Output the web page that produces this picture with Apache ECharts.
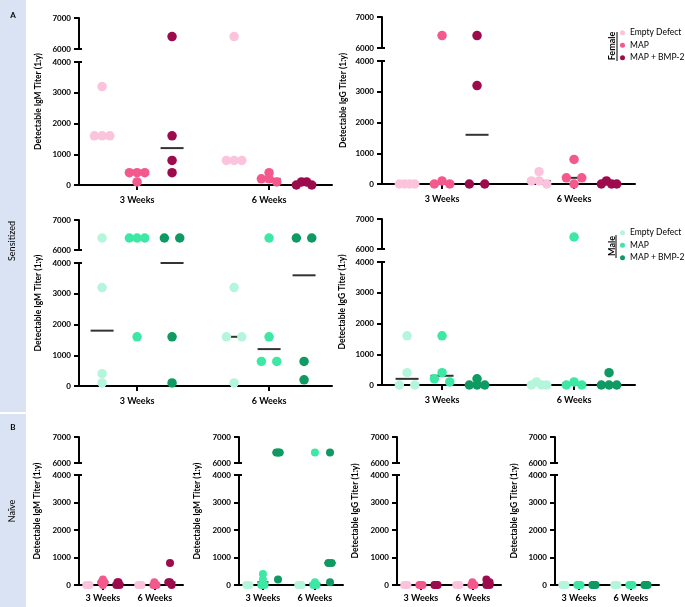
<!DOCTYPE html>
<html><head><meta charset="utf-8">
<script src="https://cdn.jsdelivr.net/npm/echarts@6/dist/echarts.min.js"></script>
<style>html,body{margin:0;padding:0;background:#fff}#c{width:685px;height:607px}</style>
</head><body><div id="c"></div>
<script>
// ---- labels ----
const weekLabels = ['3 Weeks', '6 Weeks'];
const treatments = ['Empty Defect', 'MAP', 'MAP + BMP-2'];
const sexes = ['Female', 'Male'];
const yTopRange = [6000, 7000];
const yBottomRange = [0, 4000];
const yTickStep = 1000;

// ---- data: [3 Weeks values, 6 Weeks values] ----
const sensFemaleIgM_Empty = [[3200,1600,1600,1600],[6400,800,800,800]];
const sensFemaleIgM_MAP   = [[400,400,400,100],[400,200,200,100]];
const sensFemaleIgM_BMP   = [[6400,1600,800,400],[100,100,0,0]];
const sensFemaleIgG_Empty = [[0,0,0,0],[400,100,100,0]];
const sensFemaleIgG_MAP   = [[6400,100,0,0],[800,200,200,0]];
const sensFemaleIgG_BMP   = [[6400,3200,0,0],[100,0,0,0]];
const sensMaleIgM_Empty   = [[6400,3200,400,100],[3200,1600,1600,100]];
const sensMaleIgM_MAP     = [[6400,6400,6400,1600],[6400,1600,800,800]];
const sensMaleIgM_BMP     = [[6400,6400,1600,100],[6400,6400,800,200]];
const sensMaleIgG_Empty   = [[1600,400,0,0],[100,0,0,0]];
const sensMaleIgG_MAP     = [[1600,400,200,100],[6400,100,0,0]];
const sensMaleIgG_BMP     = [[200,0,0,0],[400,0,0,0]];
const naiveFemaleIgM_Empty = [[0,0,0,0],[0,0,0,0]];
const naiveFemaleIgM_MAP   = [[200,100,100,0],[100,0,0,0]];
const naiveFemaleIgM_BMP   = [[100,100,0,0],[800,100,100,0]];
const naiveMaleIgM_Empty   = [[0,0,0,0],[0,0,0,0]];
const naiveMaleIgM_MAP     = [[400,200,0,0],[6400,100,0,0]];
const naiveMaleIgM_BMP     = [[6400,6400,6400,200],[6400,800,800,100]];
const naiveFemaleIgG_Empty = [[0,0,0,0],[0,0,0,0]];
const naiveFemaleIgG_MAP   = [[0,0,0,0],[100,0,0,0]];
const naiveFemaleIgG_BMP   = [[0,0,0,0],[200,100,0,0]];
const naiveMaleIgG_Empty   = [[0,0,0,0],[0,0,0,0]];
const naiveMaleIgG_MAP     = [[0,0,0,0],[0,0,0,0]];
const naiveMaleIgG_BMP     = [[0,0,0,0],[0,0,0,0]];

// ---- styles / layout ----
const FONT = 'Lato, "Open Sans", sans-serif';
const colors = [['#fbc3dc','#f3598c','#9e0b4c'], ['#b5f5dc','#3de8a5','#0e9a62']];
const BIG = {pxX:132, dot:9.5, line:23, sMax:7.7, spread:15.4, go:0.265, xMargin:11};
const SMALL = {pxX:52, dot:8, line:11, sMax:1.6, spread:3.2, go:0.29, xMargin:8.5};
const IGM = 'Detectable IgM Titer (1:y)', IGG = 'Detectable IgG Titer (1:y)';
const panels = [
  {g:[sensFemaleIgM_Empty,sensFemaleIgM_MAP,sensFemaleIgM_BMP], sex:0, name:IGM, left:79, width:253, xmin:0.56, y:[18,49,62,185], nameX:38, st:BIG},
  {g:[sensFemaleIgG_Empty,sensFemaleIgG_MAP,sensFemaleIgG_BMP], sex:0, name:IGG, left:382, width:253, xmin:0.545, y:[17,48,61,184], nameX:343, st:BIG},
  {g:[sensMaleIgM_Empty,sensMaleIgM_MAP,sensMaleIgM_BMP], sex:1, name:IGM, left:79, width:253, xmin:0.56, y:[220,250,263,386], nameX:38, st:BIG},
  {g:[sensMaleIgG_Empty,sensMaleIgG_MAP,sensMaleIgG_BMP], sex:1, name:IGG, left:382, width:253, xmin:0.545, y:[219,249,262,385], nameX:342, st:BIG},
  {g:[naiveFemaleIgM_Empty,naiveFemaleIgM_MAP,naiveFemaleIgM_BMP], sex:0, name:IGM, left:79, width:104, xmin:0.54, y:[437,463,475,585], nameX:37, st:SMALL},
  {g:[naiveMaleIgM_Empty,naiveMaleIgM_MAP,naiveMaleIgM_BMP], sex:1, name:IGM, left:239, width:104, xmin:0.54, y:[437,463,475,585], nameX:197, st:SMALL},
  {g:[naiveFemaleIgG_Empty,naiveFemaleIgG_MAP,naiveFemaleIgG_BMP], sex:0, name:IGG, left:397, width:104, xmin:0.54, y:[437,463,475,585], nameX:355, st:SMALL},
  {g:[naiveMaleIgG_Empty,naiveMaleIgG_MAP,naiveMaleIgG_BMP], sex:1, name:IGG, left:555, width:104, xmin:0.54, y:[437,463,475,585], nameX:514, st:SMALL}
];

function median(a){const s=[...a].sort((x,y)=>x-y);const n=s.length;return n%2?s[(n-1)/2]:(s[n/2-1]+s[n/2])/2;}

// simple beeswarm: returns horizontal pixel offsets
function swarm(vals, pyTop, pyBot, st){
  const pts = vals.map((v,i)=>({v,i,py: v>5000 ? 100000+(v-6000)*pyTop : v*pyBot}));
  pts.sort((a,b)=>b.v-a.v);
  const rows=[];
  for(const p of pts){const r=rows[rows.length-1]; if(r && Math.abs(r[0].py-p.py) < st.dot*0.45) r.push(p); else rows.push([p]);}
  const off = vals.map(()=>0);
  for(const r of rows){
    const k=r.length; if(k<2) continue;
    let slots=[];
    if(k===2){const s=Math.min(st.sMax, st.spread/2); slots=[-s,s];}
    else {const s=Math.min(st.sMax, st.spread/(k-1)); for(let j=0;j<k;j++) slots.push((j-(k-1)/2)*s);
      slots.sort((a,b)=>Math.abs(a)-Math.abs(b)||a-b);}
    r.forEach((p,j)=>off[p.i]=slots[j]);
  }
  return off;
}

const grids=[], xAxes=[], yAxes=[], extraY=[], series=[];
const ls = ()=>({color:'#000', width:2});
panels.forEach((P,p)=>{
  const st=P.st;
  const xmax = P.xmin + P.width/st.pxX;
  const [y7,y6,y4,y0]=P.y;
  const pyTop=(y6-y7)/(yTopRange[1]-yTopRange[0]);
  const pyBot=(y0-y4)/(yBottomRange[1]-yBottomRange[0]);
  [0,1].forEach(seg=>{
    const gi=2*p+seg;
    const top = seg===0 ? y7 : y4;
    const h = seg===0 ? y6-y7 : y0-y4;
    const rng = seg===0 ? yTopRange : yBottomRange;
    grids.push({left:P.left, top:top, width:P.width, height:h, containLabel:false, outerBoundsMode:'none'});
    if(seg===0){
      xAxes.push({gridIndex:gi, type:'value', min:P.xmin, max:xmax, show:false});
    } else {
      xAxes.push({gridIndex:gi, type:'value', min:P.xmin, max:xmax,
        axisLine:{show:true, onZero:false, lineStyle:ls()},
        axisTick:{show:true, customValues:[1,2], length:5, lineStyle:ls()},
        axisLabel:{show:true, customValues:[1,2], formatter:v=>weekLabels[Math.round(v)-1], fontFamily:FONT, fontWeight:'bold', fontSize:9, color:'#000', margin:st.xMargin},
        splitLine:{show:false}});
    }
    yAxes.push({gridIndex:gi, type:'value', min:rng[0], max:rng[1], interval:yTickStep,
      axisLine:{show:true, lineStyle:ls()},
      axisTick:{show:true, length:5, lineStyle:ls()},
      axisLabel:{fontFamily:FONT, fontWeight:'bold', fontSize:8, color:'#000', margin:8, formatter:v=>String(v)},
      splitLine:{show:false}});
    extraY.push({gridIndex:gi, type:'value', min:rng[0], max:rng[1], position:'left', offset:0,
      axisLine:{show:false}, axisLabel:{show:false}, splitLine:{show:false},
      axisTick:{show:true, inside:true, length:3, customValues:[seg===0?rng[0]:rng[1]], lineStyle:ls()}});
    // medians
    const med=[];
    for(let t=0;t<3;t++) for(let w=0;w<2;w++){
      const m=median(P.g[t][w]);
      if((m>5000)===(seg===0)) med.push([w+1+(t-1)*st.go, m]);
    }
    series.push({type:'scatter', name:'median', xAxisIndex:gi, yAxisIndex:gi, data:med, symbol:'rect',
      symbolSize:[st.line,2], itemStyle:{color:'#000'}, z:2, silent:true, clip:false});
    for(let t=0;t<3;t++){
      const data=[];
      for(let w=0;w<2;w++){
        const vals=P.g[t][w];
        const off=swarm(vals,pyTop,pyBot,st);
        vals.forEach((v,i)=>{ if((v>5000)===(seg===0)) data.push([w+1+(t-1)*st.go+off[i]/st.pxX, v]); });
      }
      series.push({type:'scatter', name:sexes[P.sex]+'|'+treatments[t], xAxisIndex:gi, yAxisIndex:gi, data,
        symbol:'circle', symbolSize:st.dot, itemStyle:{color:colors[P.sex][t], opacity:1}, z:3, silent:true, clip:false});
    }
  });
});

const C = {align:'center', verticalAlign:'middle', textAlign:'center', textVerticalAlign:'middle', fill:'#000'};
const graphics=[
  {type:'rect', shape:{x:0,y:0,width:26,height:412}, style:{fill:'#dae3f3'}, z:-1},
  {type:'rect', shape:{x:0,y:414,width:26,height:193}, style:{fill:'#dae3f3'}, z:-1},
  {type:'text', x:13, y:15, style:Object.assign({text:'A', font:'bold 8px '+FONT}, C)},
  {type:'text', x:13, y:427, style:Object.assign({text:'B', font:'bold 8px '+FONT}, C)},
  {type:'text', x:12, y:241, rotation:Math.PI/2, style:Object.assign({text:'Sensitized', font:'9px '+FONT}, C)},
  {type:'text', x:12, y:511, rotation:Math.PI/2, style:Object.assign({text:'Naïve', font:'9px '+FONT}, C)},
  {type:'text', x:612.5, y:46, rotation:Math.PI/2, style:Object.assign({text:'Female', font:'bold 9px '+FONT}, C)},
  {type:'line', shape:{x1:617,y1:32,x2:617,y2:61}, style:{stroke:'#000', lineWidth:1}},
  {type:'text', x:612, y:246, rotation:Math.PI/2, style:Object.assign({text:'Male', font:'bold 9px '+FONT}, C)},
  {type:'line', shape:{x1:616,y1:235,x2:616,y2:258}, style:{stroke:'#000', lineWidth:1}}
];
panels.forEach(P=>{
  graphics.push({type:'text', x:P.nameX, y:(P.y[0]+P.y[3])/2, rotation:Math.PI/2,
    style:Object.assign({text:P.name, font:'bold 8.5px '+FONT}, C)});
});

const legendBase = {orient:'vertical', left:620, itemWidth:5, itemHeight:5, itemGap:1, icon:'circle', padding:0, selectedMode:false,
  formatter:n=>n.split('|')[1], textStyle:{fontFamily:FONT, fontSize:8.5, color:'#000', lineHeight:11.5}};

const chart = echarts.init(document.getElementById('c'), null, {renderer:'canvas'});
chart.setOption({
  animation:false,
  backgroundColor:'#fff',
  grid:grids,
  xAxis:xAxes,
  yAxis:yAxes.concat(extraY),
  legend:[
    Object.assign({}, legendBase, {top:27, data:treatments.map(t=>'Female|'+t)}),
    Object.assign({}, legendBase, {top:227, data:treatments.map(t=>'Male|'+t)})
  ],
  graphic:graphics,
  series
});
</script></body></html>
